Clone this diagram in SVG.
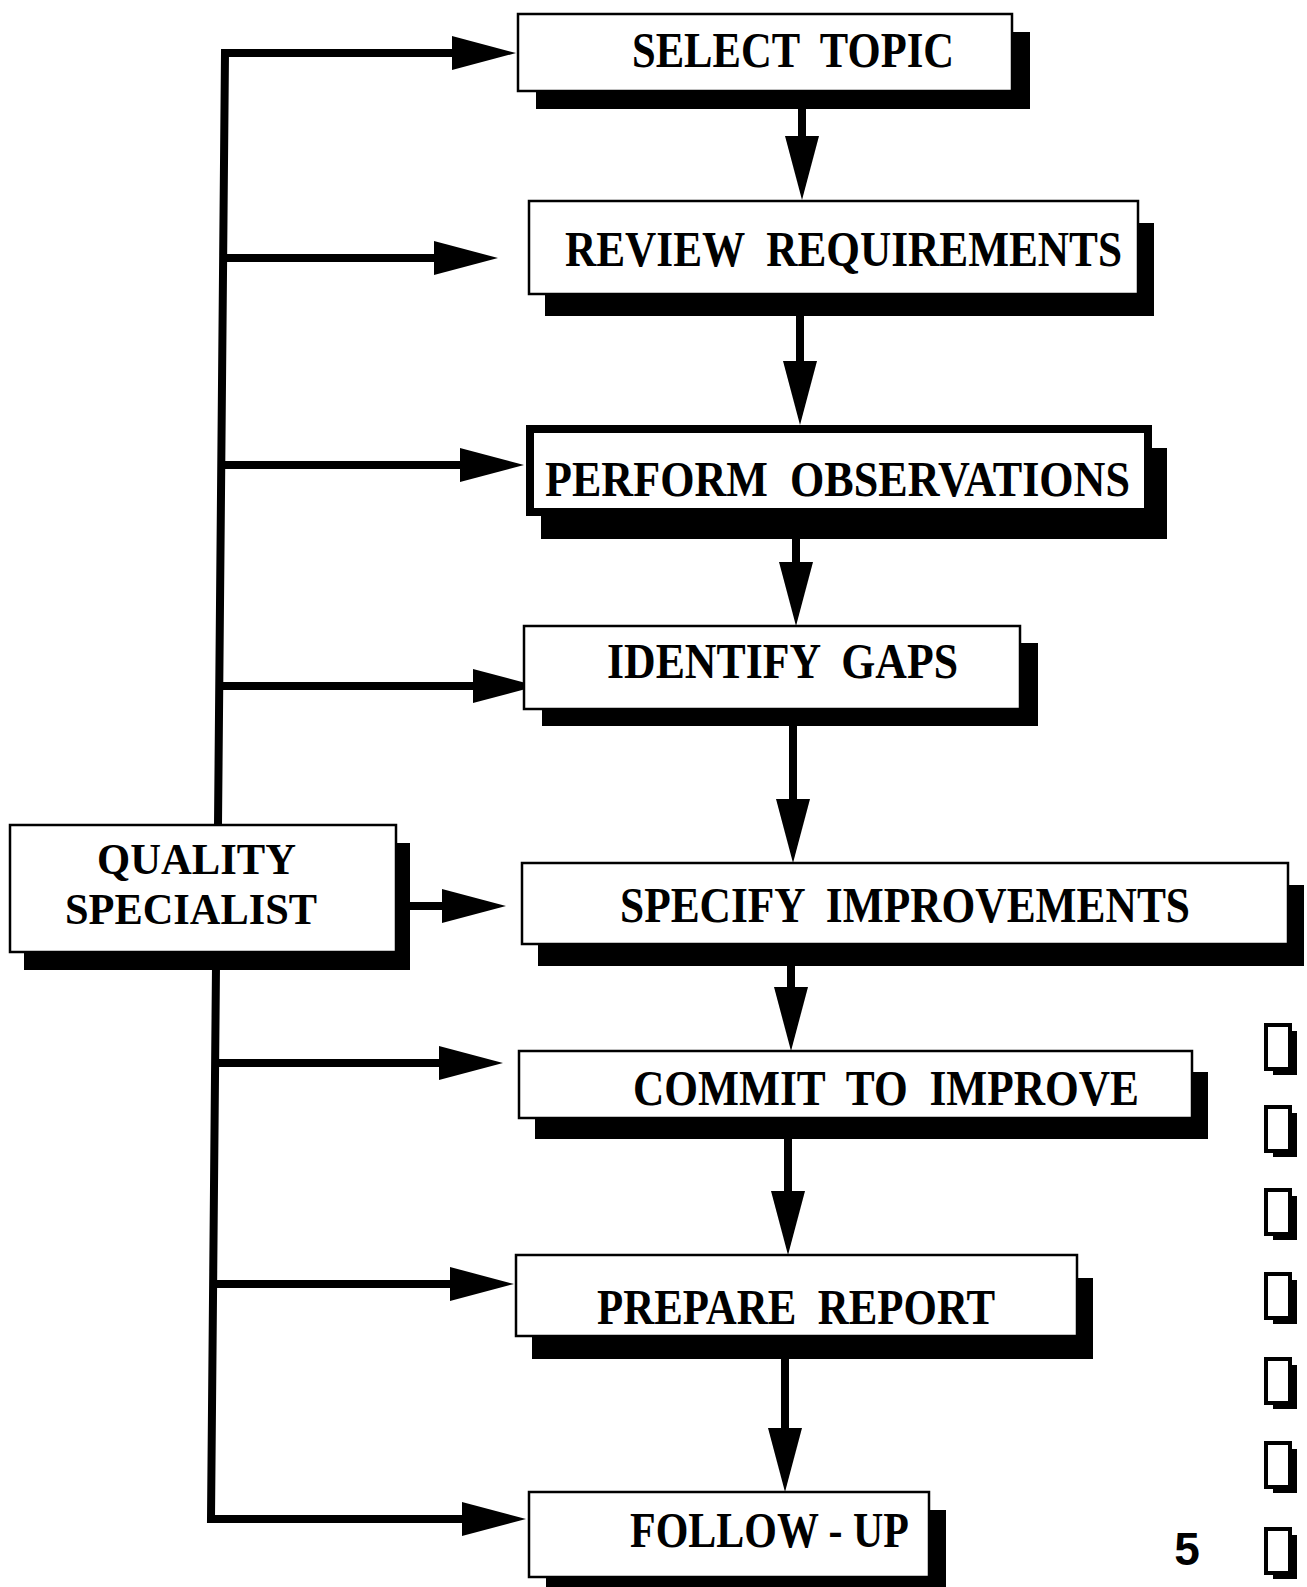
<svg xmlns="http://www.w3.org/2000/svg" width="1307" height="1587" viewBox="0 0 1307 1587">
<style>
.box{fill:#fff;stroke:#000;stroke-width:2.5}
.thick{fill:#fff;stroke:#000;stroke-width:8}
.sh{fill:#000}
.lbl{font-family:"Liberation Serif","Times New Roman",serif;font-weight:bold;font-size:50px;fill:#000;white-space:pre}
.qs{font-size:44px}
.ln{fill:none;stroke:#000;stroke-width:8;stroke-linejoin:miter}
.ic{fill:#fff;stroke:#000;stroke-width:4}
.num{font-family:"Liberation Sans",Arial,sans-serif;font-weight:bold;font-size:46px;fill:#000}
</style>
<defs>
<marker id="ah" markerUnits="userSpaceOnUse" markerWidth="66" markerHeight="36" refX="10" refY="17" orient="auto" overflow="visible">
<path d="M0,0 L64,17 L0,34 Z" fill="#000"/>
</marker>
</defs>
<rect width="1307" height="1587" fill="#fff"/>

<g id="connectors">
<path class="ln" d="M218,825 L225,53 L462,53" marker-end="url(#ah)"/>
<path class="ln" d="M223,258 L444,258" marker-end="url(#ah)"/>
<path class="ln" d="M222,465 L470,465" marker-end="url(#ah)"/>
<path class="ln" d="M220,686 L483,686" marker-end="url(#ah)"/>
<path class="ln" d="M408,906 L452,906" marker-end="url(#ah)"/>
<path class="ln" d="M216,966 L211,1519 L472,1519" marker-end="url(#ah)"/>
<path class="ln" d="M215,1063 L449,1063" marker-end="url(#ah)"/>
<path class="ln" d="M213,1284 L460,1284" marker-end="url(#ah)"/>
<path class="ln" d="M802,109 L802,146" marker-end="url(#ah)"/>
<path class="ln" d="M800,316 L800,371" marker-end="url(#ah)"/>
<path class="ln" d="M796,539 L796,572" marker-end="url(#ah)"/>
<path class="ln" d="M793,726 L793,809" marker-end="url(#ah)"/>
<path class="ln" d="M791,966 L791,997" marker-end="url(#ah)"/>
<path class="ln" d="M788,1139 L788,1201" marker-end="url(#ah)"/>
<path class="ln" d="M785,1359 L785,1438" marker-end="url(#ah)"/>
</g>

<g id="select-topic">
<rect class="sh" x="536" y="32" width="494" height="77"/>
<rect class="box" x="518" y="14" width="494" height="77"/>
<text class="lbl" x="632" y="67" textLength="322" lengthAdjust="spacingAndGlyphs">SELECT  TOPIC</text>
</g>
<g id="review-requirements">
<rect class="sh" x="545" y="223" width="609" height="93"/>
<rect class="box" x="529" y="201" width="609" height="93"/>
<text class="lbl" x="565" y="266" textLength="557" lengthAdjust="spacingAndGlyphs">REVIEW  REQUIREMENTS</text>
</g>
<g id="perform-observations">
<rect class="sh" x="541" y="448" width="626" height="91"/>
<rect class="thick" x="530" y="429" width="618" height="83"/>
<text class="lbl" x="545" y="496" textLength="585" lengthAdjust="spacingAndGlyphs">PERFORM  OBSERVATIONS</text>
</g>
<g id="identify-gaps">
<rect class="sh" x="542" y="643" width="496" height="83"/>
<rect class="box" x="524" y="626" width="496" height="83"/>
<text class="lbl" x="607" y="678" textLength="351" lengthAdjust="spacingAndGlyphs">IDENTIFY  GAPS</text>
</g>
<g id="quality-specialist">
<rect class="sh" x="24" y="843" width="386" height="127"/>
<rect class="box" x="10" y="825" width="386" height="127"/>
<text class="lbl qs" x="97" y="874" textLength="199" lengthAdjust="spacingAndGlyphs">QUALITY</text>
<text class="lbl qs" x="65" y="924" textLength="252" lengthAdjust="spacingAndGlyphs">SPECIALIST</text>
</g>
<g id="specify-improvements">
<rect class="sh" x="538" y="885" width="766" height="81"/>
<rect class="box" x="522" y="863" width="766" height="81"/>
<text class="lbl" x="620" y="922" textLength="570" lengthAdjust="spacingAndGlyphs">SPECIFY  IMPROVEMENTS</text>
</g>
<g id="commit-to-improve">
<rect class="sh" x="535" y="1072" width="673" height="67"/>
<rect class="box" x="519" y="1051" width="673" height="67"/>
<text class="lbl" x="633" y="1105" textLength="506" lengthAdjust="spacingAndGlyphs">COMMIT  TO  IMPROVE</text>
</g>
<g id="prepare-report">
<rect class="sh" x="532" y="1278" width="561" height="81"/>
<rect class="box" x="516" y="1255" width="561" height="81"/>
<text class="lbl" x="597" y="1324" textLength="398" lengthAdjust="spacingAndGlyphs">PREPARE  REPORT</text>
</g>
<g id="follow-up">
<rect class="sh" x="546" y="1510" width="400" height="85"/>
<rect class="box" x="529" y="1492" width="400" height="85"/>
<text class="lbl" x="630" y="1547" textLength="279" lengthAdjust="spacingAndGlyphs">FOLLOW - UP</text>
</g>

<g id="page-marks">
<rect class="sh" x="1273" y="1031" width="24" height="44"/>
<rect class="ic" x="1266" y="1025" width="24" height="44"/>
<rect class="sh" x="1273" y="1113" width="24" height="44"/>
<rect class="ic" x="1266" y="1107" width="24" height="44"/>
<rect class="sh" x="1273" y="1196" width="24" height="44"/>
<rect class="ic" x="1266" y="1190" width="24" height="44"/>
<rect class="sh" x="1273" y="1280" width="24" height="44"/>
<rect class="ic" x="1266" y="1274" width="24" height="44"/>
<rect class="sh" x="1273" y="1365" width="24" height="44"/>
<rect class="ic" x="1266" y="1359" width="24" height="44"/>
<rect class="sh" x="1273" y="1449" width="24" height="44"/>
<rect class="ic" x="1266" y="1443" width="24" height="44"/>
<rect class="sh" x="1273" y="1535" width="24" height="44"/>
<rect class="ic" x="1266" y="1529" width="24" height="44"/>
<text class="num" x="1187" y="1565" text-anchor="middle">5</text>
</g>
</svg>
